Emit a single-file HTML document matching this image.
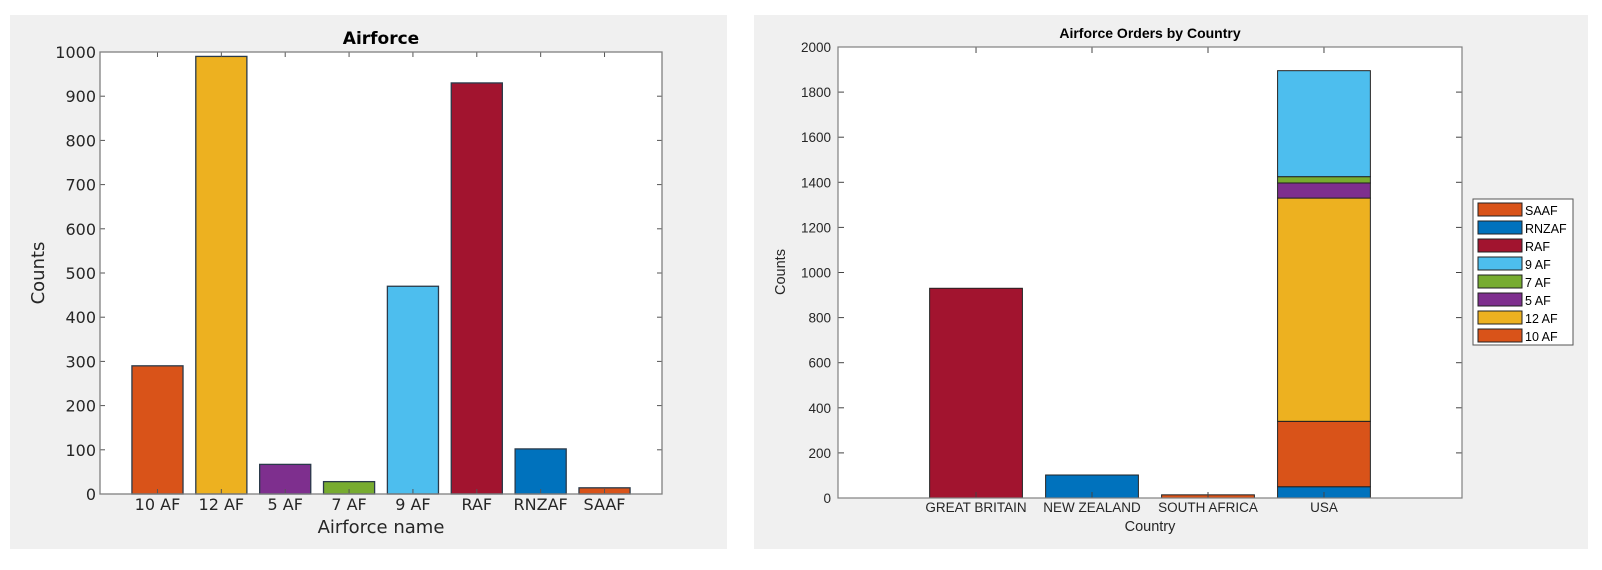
<!DOCTYPE html>
<html><head><meta charset="utf-8"><style>
body{margin:0;background:#fff;width:1602px;height:570px;overflow:hidden}
svg{display:block}
</style></head><body>
<svg id="s" width="1602" height="570" xmlns="http://www.w3.org/2000/svg">
<rect x="10" y="15" width="717" height="534" fill="#f0f0f0"/>
<rect x="754" y="15" width="834" height="534" fill="#f0f0f0"/>
</svg>
<script>
const leftCats=["10 AF","12 AF","5 AF","7 AF","9 AF","RAF","RNZAF","SAAF"];
const leftVals=[290,990,67,28,470,930,102,14];
const leftColors=["#D95319","#EDB120","#7E2F8E","#77AC30","#4DBEEE","#A2142F","#0072BD","#D95319"];
const leftTicks=[0,100,200,300,400,500,600,700,800,900,1000];
const rightCats=["GREAT BRITAIN","NEW ZEALAND","SOUTH AFRICA","USA"];
const rightSegNames=[["RAF"],["RNZAF"],["SAAF"],["RNZAF","10 AF","12 AF","5 AF","7 AF","9 AF"]];
const rightSegVals=[[930],[102],[14],[50,290,990,67,28,470]];
const rightTicks=[0,200,400,600,800,1000,1200,1400,1600,1800,2000];
const legendNames=["SAAF","RNZAF","RAF","9 AF","7 AF","5 AF","12 AF","10 AF"];
const colorOf={"10 AF":"#D95319","12 AF":"#EDB120","5 AF":"#7E2F8E","7 AF":"#77AC30","9 AF":"#4DBEEE","RAF":"#A2142F","RNZAF":"#0072BD","SAAF":"#D95319"};
const S=document.getElementById('s');const NS="http://www.w3.org/2000/svg";
function mk(t,a,txt){const e=document.createElementNS(NS,t);for(const k in a)e.setAttribute(k,a[k]);if(txt!==undefined)e.textContent=txt;S.appendChild(e);return e;}

// LEFT
const L={x0:100,x1:662,y0:52,y1:494,min:0.1,max:8.9,ymax:1000};
const lx=v=>L.x0+(v-L.min)/(L.max-L.min)*(L.x1-L.x0);
const ly=v=>L.y1-v/L.ymax*(L.y1-L.y0);
let e=mk('rect',{x:L.x0,y:L.y0,width:L.x1-L.x0,height:L.y1-L.y0,fill:"#fff"});


leftVals.forEach((v,i)=>{const c=lx(i+1);
 e=mk('rect',{x:c-0.4*(lx(2)-lx(1)),y:ly(v),width:0.8*(lx(2)-lx(1)),height:ly(0)-ly(v),fill:leftColors[i],stroke:"#2a3a4a","stroke-width":1.3});
 
 
 mk('line',{x1:c,x2:c,y1:L.y1,y2:L.y1-5,stroke:"#555"});mk('line',{x1:c,x2:c,y1:L.y0,y2:L.y0+5,stroke:"#555"});
 e=mk('text',{x:c,y:510,"text-anchor":"middle","font-family":"DejaVu Sans, sans-serif","font-size":16,fill:"#262626"},leftCats[i]);
 
 
});
leftTicks.forEach(t=>{const y=ly(t);
 mk('line',{x1:L.x0,x2:L.x0+5,y1:y,y2:y,stroke:"#555"});mk('line',{x1:L.x1,x2:L.x1-5,y1:y,y2:y,stroke:"#555"});
 e=mk('text',{x:L.x0-4,y:y+6,"text-anchor":"end","font-family":"DejaVu Sans, sans-serif","font-size":16,fill:"#262626"},String(t));
 
 
});
e=mk('rect',{x:L.x0,y:L.y0,width:L.x1-L.x0,height:L.y1-L.y0,fill:"none",stroke:"#808080","stroke-width":1.3});


e=mk('text',{x:381,y:44,"text-anchor":"middle","font-family":"DejaVu Sans, sans-serif","font-size":17,"font-weight":"bold",fill:"#000"},"Airforce");


e=mk('text',{x:381,y:533,"text-anchor":"middle","font-family":"DejaVu Sans, sans-serif","font-size":18,fill:"#262626"},"Airforce name");


e=mk('text',{x:44,y:273,"text-anchor":"middle","font-family":"DejaVu Sans, sans-serif","font-size":18,fill:"#262626",transform:"rotate(-90 44 273)"},"Counts");



// RIGHT
const R={x0:838,x1:1462,y0:47,y1:498,min:-0.19,max:5.19,ymax:2000};
const rx=v=>R.x0+(v-R.min)/(R.max-R.min)*(R.x1-R.x0);
const ry=v=>R.y1-v/R.ymax*(R.y1-R.y0);
e=mk('rect',{x:R.x0,y:R.y0,width:R.x1-R.x0,height:R.y1-R.y0,fill:"#fff"});


rightCats.forEach((c,i)=>{const cx=rx(i+1);const w=0.8*(rx(2)-rx(1));let acc=0;
 rightSegVals[i].forEach((v,j)=>{
  e=mk('rect',{x:cx-w/2,y:ry(acc+v),width:w,height:ry(acc)-ry(acc+v),fill:colorOf[rightSegNames[i][j]],stroke:"#222","stroke-width":1});
  
  
  acc+=v;});
 mk('line',{x1:cx,x2:cx,y1:R.y1,y2:R.y1-6,stroke:"#444"});mk('line',{x1:cx,x2:cx,y1:R.y0,y2:R.y0+6,stroke:"#444"});
 e=mk('text',{x:cx,y:512,"text-anchor":"middle","font-family":"Liberation Sans, sans-serif","font-size":13.5,fill:"#262626"},c);
 
 
});
rightTicks.forEach(t=>{const y=ry(t);
 mk('line',{x1:R.x0,x2:R.x0+6,y1:y,y2:y,stroke:"#444"});mk('line',{x1:R.x1,x2:R.x1-6,y1:y,y2:y,stroke:"#444"});
 e=mk('text',{x:R.x0-7,y:y+5,"text-anchor":"end","font-family":"Liberation Sans, sans-serif","font-size":13.5,fill:"#262626"},String(t));
 
 
});
e=mk('rect',{x:R.x0,y:R.y0,width:R.x1-R.x0,height:R.y1-R.y0,fill:"none",stroke:"#808080","stroke-width":1.2});


e=mk('text',{x:1150,y:38,"text-anchor":"middle","font-family":"Liberation Sans, sans-serif","font-size":14,"font-weight":"bold",fill:"#000"},"Airforce Orders by Country");


e=mk('text',{x:1150,y:531,"text-anchor":"middle","font-family":"Liberation Sans, sans-serif","font-size":14.5,fill:"#262626"},"Country");


e=mk('text',{x:785,y:272,"text-anchor":"middle","font-family":"Liberation Sans, sans-serif","font-size":14.5,fill:"#262626",transform:"rotate(-90 785 272)"},"Counts");


e=mk('rect',{x:1473,y:199,width:100,height:146,fill:"#fff",stroke:"#555","stroke-width":1});


legendNames.forEach((n,i)=>{const y=203+i*18;
 e=mk('rect',{x:1478,y:y,width:44,height:13,fill:colorOf[n],stroke:"#222","stroke-width":1});
 
 
 e=mk('text',{x:1525,y:y+12,"font-family":"Liberation Sans, sans-serif","font-size":12.5,fill:"#000"},n);
 
 
});
</script>
</body></html>
